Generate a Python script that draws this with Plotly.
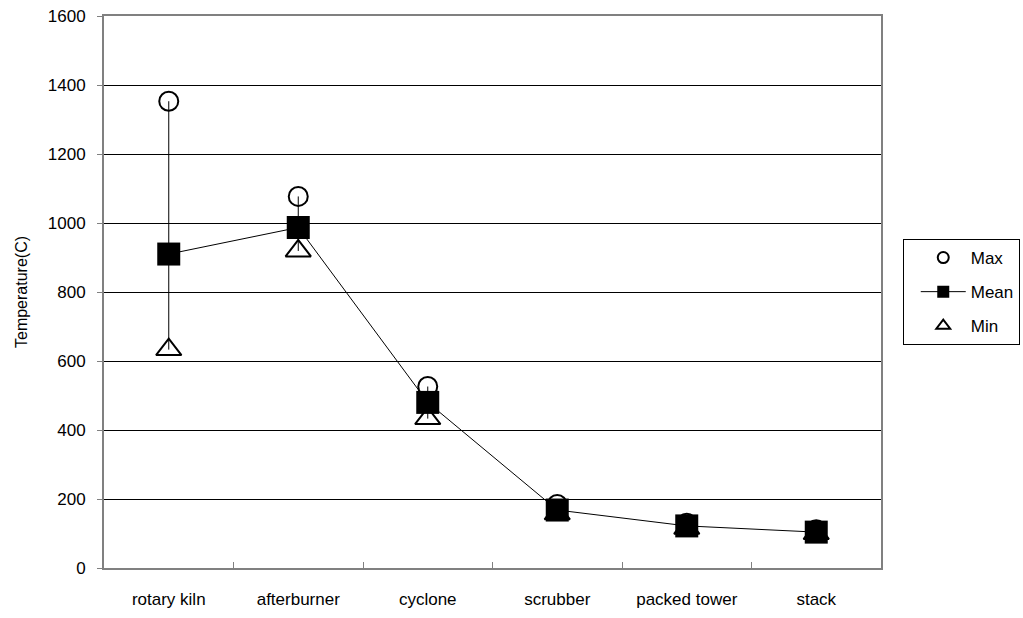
import plotly.graph_objects as go

categories = ["rotary kiln", "afterburner", "cyclone", "scrubber", "packed tower", "stack"]
max_vals = [1353, 1077, 526, 184, 130, 111]
mean_vals = [910, 987, 480, 168, 122, 104]
min_vals = [633, 919, 433, 157, 115, 100]
y_ticks = [0, 200, 400, 600, 800, 1000, 1200, 1400, 1600]

err_plus = [mx - m for mx, m in zip(max_vals, mean_vals)]
err_minus = [m - mn for m, mn in zip(mean_vals, min_vals)]

font = "Liberation Sans, Arial, sans-serif"

fig = go.Figure()

# whiskers min-max
fig.add_trace(go.Scatter(
    x=categories, y=mean_vals, mode="markers", showlegend=False, hoverinfo="skip",
    marker=dict(size=1, color="rgba(0,0,0,0)"),
    error_y=dict(type="data", symmetric=False, array=err_plus, arrayminus=err_minus,
                 color="black", thickness=1, width=0),
))
fig.add_trace(go.Scatter(
    x=categories, y=max_vals, mode="markers", name="Max", showlegend=False,
    marker=dict(symbol="circle-open", size=19, color="black", line=dict(width=2, color="black")),
))
fig.add_trace(go.Scatter(
    x=categories, y=mean_vals, mode="lines+markers", name="Mean", showlegend=False,
    line=dict(color="black", width=1),
    marker=dict(symbol="square", size=23, color="black"),
))
fig.add_trace(go.Scatter(
    x=categories, y=min_vals, mode="markers", name="Min", showlegend=False,
    marker=dict(symbol="triangle-up-open", size=22, color="black", line=dict(width=2, color="black")),
))

# legend entries (smaller symbols, as in the reference legend)
fig.add_trace(go.Scatter(
    x=[None], y=[None], mode="markers", name="Max", legendgroup="a",
    marker=dict(symbol="circle-open", size=11, color="black", line=dict(width=2, color="black")),
))
fig.add_trace(go.Scatter(
    x=[None], y=[None], mode="lines+markers", name="Mean", legendgroup="b",
    line=dict(color="black", width=1),
    marker=dict(symbol="square", size=12, color="black"),
))
fig.add_trace(go.Scatter(
    x=[None], y=[None], mode="markers", name="Min", legendgroup="c",
    marker=dict(symbol="triangle-up-open", size=12, color="black", line=dict(width=2, color="black")),
))

fig.update_layout(
    width=1023, height=618,
    margin=dict(l=104, r=142, t=16, b=50, autoexpand=False),
    paper_bgcolor="white", plot_bgcolor="white",
    font=dict(family=font, size=17, color="black"),
    legend=dict(x=1.028, y=0.5, xanchor="left", yanchor="middle",
                bordercolor="black", borderwidth=1, bgcolor="white",
                font=dict(size=17), itemwidth=45, indentation=12,
                tracegroupgap=9, traceorder="grouped"),
)
fig.update_xaxes(
    type="category", range=[-0.5, len(categories) - 0.5],
    tickson="boundaries", ticks="inside", ticklen=6,
    tickcolor="#808080", showgrid=False,
    showline=True, linecolor="#808080", linewidth=2, mirror=True,
    tickfont=dict(size=17), ticklabelstandoff=15,
)
fig.update_yaxes(
    range=[0, 1600], tickvals=y_ticks, ticks="outside", ticklen=5,
    tickcolor="#808080", showgrid=True, gridcolor="black", gridwidth=1,
    showline=True, linecolor="#808080", linewidth=2, mirror=True,
    zeroline=False, ticklabelstandoff=8,
    title=dict(text="Temperature(C)", font=dict(size=16), standoff=16),
    tickfont=dict(size=17),
)

fig.write_html("out.html", config={"displayModeBar": False},
               post_script="document.body.style.margin='0';")
